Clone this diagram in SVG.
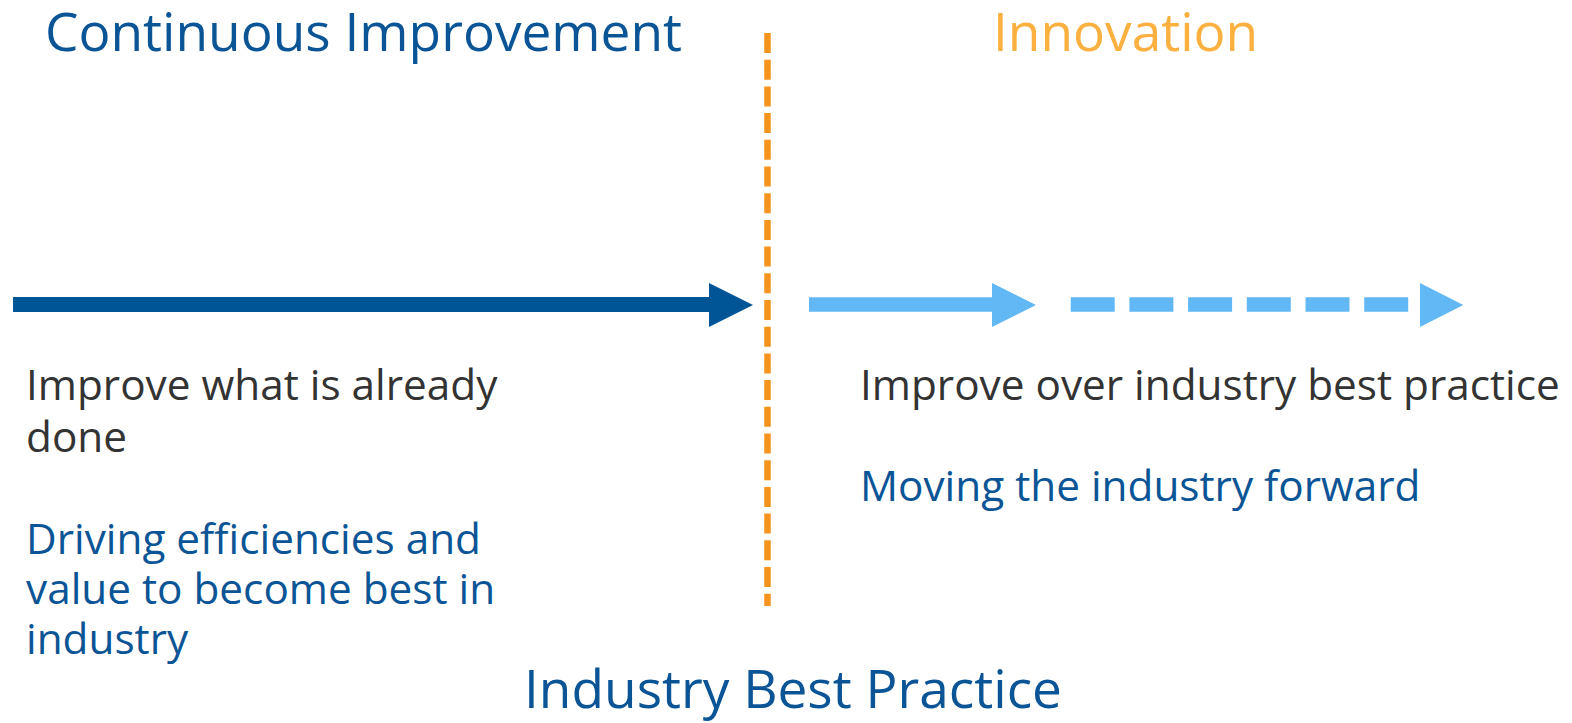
<svg xmlns="http://www.w3.org/2000/svg" width="1572" height="723" viewBox="0 0 1572 723">
<style>
.title{font-family:"Open Sans","Noto Sans",sans-serif;font-size:53.2px}
.body{font-family:"Open Sans","Noto Sans",sans-serif;font-size:42.3px}
.dark{fill:#0B5596}
.grey{fill:#333333}
.orange{fill:#FBB040}
</style>
<rect width="1572" height="723" fill="#ffffff"/>
<g id="title-ci"><text class="title dark" x="45" y="51">Continuous Improvement</text></g>
<g id="title-innovation"><text class="title orange" x="993" y="51">Innovation</text></g>
<g id="title-ibp"><text class="title dark" x="524" y="708">Industry Best Practice</text></g>
<g id="left-text">
<text class="body grey" x="26" y="400">Improve what is already</text>
<text class="body grey" x="26" y="452">done</text>
<text class="body dark" x="26" y="554">Driving efficiencies and</text>
<text class="body dark" x="26" y="604">value to become best in</text>
<text class="body dark" x="26" y="654">industry</text>
</g>
<g id="right-text">
<text class="body grey" x="860" y="400">Improve over industry best practice</text>
<text class="body dark" x="860" y="501">Moving the industry forward</text>
</g>
<g id="connectors">
<line x1="767.5" y1="33" x2="767.5" y2="606" stroke="#F7941D" stroke-width="6.5" stroke-dasharray="20 6.7"/>
<line x1="13" y1="304.5" x2="711" y2="304.5" stroke="#005596" stroke-width="15"/>
<polygon points="709,283 753,305 709,327" fill="#005596"/>
<line x1="809" y1="304.5" x2="994" y2="304.5" stroke="#62B8F4" stroke-width="14.5"/>
<polygon points="992,283 1036,305 992,327" fill="#62B8F4"/>
<line x1="1070.7" y1="304.5" x2="1408.2" y2="304.5" stroke="#62B8F4" stroke-width="14.5" stroke-dasharray="44 14.7"/>
<polygon points="1420,283 1463.3,305 1420,327" fill="#62B8F4"/>
</g>
</svg>
